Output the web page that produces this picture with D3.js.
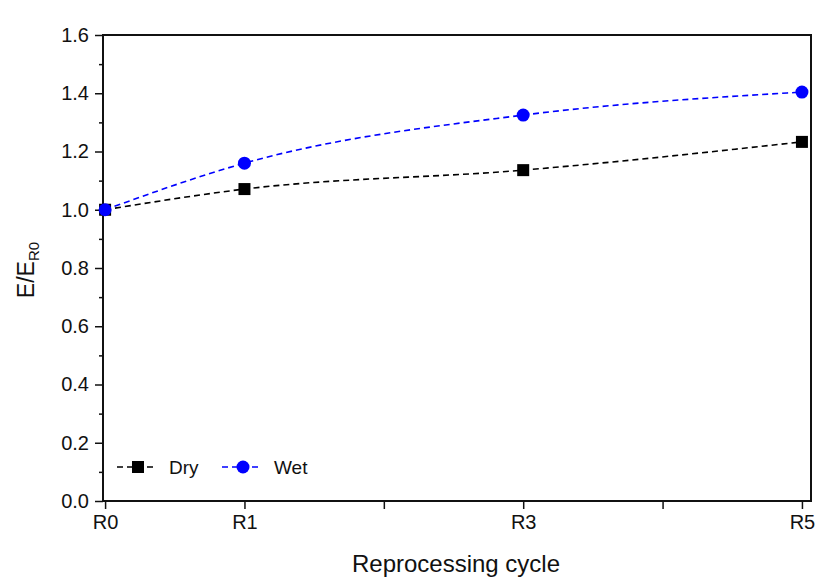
<!DOCTYPE html>
<html>
<head>
<meta charset="utf-8">
<script src="https://cdn.jsdelivr.net/npm/d3@7"></script>
<style>
  body { margin: 0; background: #fff; }
  svg text { font-family: "Liberation Sans", Arial, sans-serif; fill: #111; }
</style>
</head>
<body>
<svg id="chart" width="817" height="586"></svg>
<script>
const cycles = [0, 1, 3, 5];
const cycleLabels = ['R0', 'R1', 'R3', 'R5'];
const dryValues = [1.0, 1.071, 1.136, 1.233];
const wetValues = [1.0, 1.160, 1.325, 1.404];
const yTicks = [0.0, 0.2, 0.4, 0.6, 0.8, 1.0, 1.2, 1.4, 1.6];

const width = 817, height = 586;
const padding = { top: 35, right: 6, down: 85, left: 103 };

const svg = d3.select('#chart');

/* X SCALE */
const xScale = d3.scaleLinear()
    .domain([-0.015, 5.065])
    .range([padding.left, width - padding.right]);
/* Y SCALE */
const yScale = d3.scaleLinear()
    .domain([0, 1.6])
    .range([height - padding.down, padding.top]);

const labelFor = v => {
    const i = cycles.indexOf(v);
    return i >= 0 ? cycleLabels[i] : '';
};

/* minor ticks */
svg.append('g')
    .attr('transform', `translate(${padding.left}, 0)`)
    .call(d3.axisLeft(yScale).tickValues(d3.range(0.1, 1.6, 0.2)).tickSize(4).tickFormat(''))
    .call(g => g.select('.domain').remove())
    .selectAll('line').attr('stroke', '#111').attr('stroke-width', 1.5);

/* x axis */
const xAxisG = svg.append('g')
    .attr('transform', `translate(0, ${height - padding.down})`)
    .call(d3.axisBottom(xScale).tickValues([0, 1, 2, 3, 4, 5]).tickSize(8).tickSizeOuter(0).tickPadding(6).tickFormat(labelFor));
xAxisG.select('.domain').remove();
xAxisG.selectAll('line').attr('stroke', '#111').attr('stroke-width', 1.5);
xAxisG.selectAll('text').style('font-size', '20px').attr('fill', '#111');

/* y axis */
const yAxisG = svg.append('g')
    .attr('transform', `translate(${padding.left}, 0)`)
    .call(d3.axisLeft(yScale).tickValues(yTicks).tickSize(8).tickPadding(6).tickFormat(d3.format('.1f')));
yAxisG.select('.domain').remove();
yAxisG.selectAll('line').attr('stroke', '#111').attr('stroke-width', 1.5);
yAxisG.selectAll('text').style('font-size', '20px').attr('fill', '#111');

/* frame */
svg.append('rect')
    .attr('x', padding.left)
    .attr('y', padding.top)
    .attr('width', width - padding.right - padding.left)
    .attr('height', height - padding.down - padding.top)
    .attr('fill', 'none')
    .attr('stroke', '#111')
    .attr('stroke-width', 2);

/* series */
const series = [
    { name: 'Dry', values: dryValues, color: '#000000', shape: 'square' },
    { name: 'Wet', values: wetValues, color: '#0000ff', shape: 'circle' }
];

const line = d3.line()
    .x(d => xScale(d[0]))
    .y(d => yScale(d[1]))
    .curve(d3.curveMonotoneX);

const drawMarker = (g, shape, color, x, y) => {
    if (shape === 'square') {
        g.append('rect')
            .attr('x', x - 6).attr('y', y - 6)
            .attr('width', 12).attr('height', 12)
            .attr('fill', color);
    } else {
        g.append('circle')
            .attr('cx', x).attr('cy', y).attr('r', 6.5)
            .attr('fill', color);
    }
};

series.forEach(s => {
    const pts = cycles.map((c, i) => [c, s.values[i]]);
    svg.append('path')
        .datum(pts)
        .attr('d', line)
        .attr('fill', 'none')
        .attr('stroke', s.color)
        .attr('stroke-width', 1.6)
        .attr('stroke-dasharray', '6,4');
    const mg = svg.append('g');
    pts.forEach(p => drawMarker(mg, s.shape, s.color, xScale(p[0]), yScale(p[1])));
});

/* legend */
const legend = svg.append('g').attr('transform', 'translate(117, 467)');
series.forEach((s, i) => {
    const ox = i * 105;
    const lg = legend.append('g').attr('transform', `translate(${ox}, 0)`);
    lg.append('line')
        .attr('x1', 0).attr('x2', 38).attr('y1', 0).attr('y2', 0)
        .attr('stroke', s.color).attr('stroke-width', 1.6)
        .attr('stroke-dasharray', '6,4');
    drawMarker(lg, s.shape, s.color, 21, 0);
    lg.append('text')
        .attr('x', 52).attr('y', 7)
        .style('font-size', '19px')
        .text(s.name);
});

/* axis titles */
svg.append('text')
    .attr('x', 456).attr('y', 572)
    .attr('text-anchor', 'middle')
    .style('font-size', '24px')
    .text('Reprocessing cycle');

const yt = svg.append('text')
    .attr('transform', 'translate(34, 270) rotate(-90)')
    .attr('text-anchor', 'middle')
    .style('font-size', '23px');
yt.append('tspan').text('E/E');
yt.append('tspan').attr('dy', 5).style('font-size', '15px').text('R0');
</script>
</body>
</html>
